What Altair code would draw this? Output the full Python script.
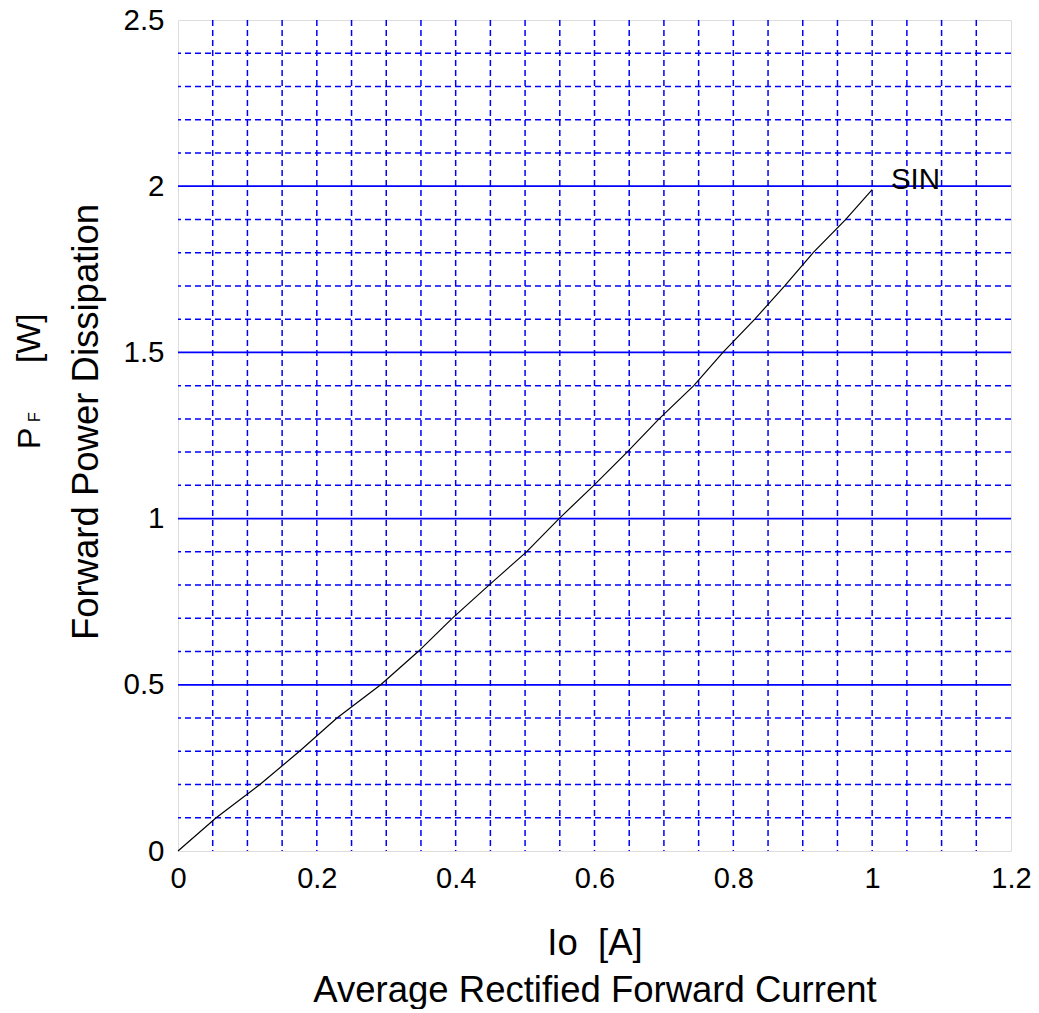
import altair as alt
import pandas as pd

# Curve: Io [A] vs PF [W] (SIN)
io = [0, 0.055, 0.118, 0.175, 0.229, 0.292, 0.346, 0.395, 0.448, 0.502, 0.549,
      0.599, 0.647, 0.693, 0.743, 0.785, 0.831, 0.874, 0.915, 0.962, 1.0]
pf = [0, 0.1, 0.2, 0.3, 0.4, 0.5, 0.6, 0.7, 0.8, 0.9, 1.0,
      1.1, 1.2, 1.3, 1.4, 1.5, 1.6, 1.7, 1.8, 1.9, 1.99]

x_ticks = [0, 0.2, 0.4, 0.6, 0.8, 1.0, 1.2]
y_ticks = [0, 0.5, 1.0, 1.5, 2.0, 2.5]
x_minor = [round(0.05 * k, 2) for k in range(1, 24)]
y_minor = [round(0.1 * k, 1) for k in range(1, 25) if k % 5 != 0]
y_major = [0.5, 1.0, 1.5, 2.0]

label_text = ["SIN"]
label_x = [1.027]
label_y = [2.02]

BLUE = "#0000ff"
FONT = "Arial, Liberation Sans, sans-serif"

xs = alt.Scale(domain=[0, 1.2], nice=False, zero=False)
ys = alt.Scale(domain=[0, 2.5], nice=False, zero=False)

curve_df = pd.DataFrame({"io": io, "pf": pf})

vgrid = alt.Chart(pd.DataFrame({"x": x_minor})).mark_rule(
    color=BLUE, strokeWidth=1.5, strokeDash=[6, 4]
).encode(x=alt.X("x:Q", scale=xs))

hgrid = alt.Chart(pd.DataFrame({"y": y_minor})).mark_rule(
    color=BLUE, strokeWidth=1.5, strokeDash=[6, 4]
).encode(y=alt.Y("y:Q", scale=ys))

hmajor = alt.Chart(pd.DataFrame({"y": y_major})).mark_rule(
    color=BLUE, strokeWidth=1.8
).encode(y=alt.Y("y:Q", scale=ys))

line = alt.Chart(curve_df).mark_line(color="black", strokeWidth=1.2).encode(
    x=alt.X(
        "io:Q", scale=xs,
        axis=alt.Axis(values=x_ticks, format="~g", title=None, grid=False,
                      ticks=False, domain=False, labelFontSize=29,
                      labelFont=FONT, labelColor="black", labelPadding=13,
                      labelFlush=False, labelOverlap=False),
    ),
    y=alt.Y(
        "pf:Q", scale=ys,
        axis=alt.Axis(values=y_ticks, format="~g", title=None, grid=False,
                      ticks=False, domain=False, labelFontSize=29.5,
                      labelFont=FONT, labelColor="black", labelPadding=14,
                      labelFlush=False, labelOverlap=False),
    ),
)

sin_label = alt.Chart(pd.DataFrame({"t": label_text, "x": label_x, "y": label_y})).mark_text(
    align="left", baseline="middle", fontSize=29.5, font=FONT, color="black"
).encode(x=alt.X("x:Q", scale=xs), y=alt.Y("y:Q", scale=ys), text="t:N")


def txt(s, x, y, size, angle=0, align="center", baseline="alphabetic"):
    return alt.Chart(alt.Data(values=[{"a": 1}])).mark_text(
        text=s, fontSize=size, font=FONT, color="black", angle=angle,
        align=align, baseline=baseline
    ).encode(x=alt.value(x), y=alt.value(y))


xt1 = txt("Io\u00a0\u00a0[A]", 417, 935, 36.5)
xt2 = txt("Average Rectified Forward Current", 417, 982, 36.5)
yt2 = txt("Forward Power Dissipation", -80, 402, 36.5, angle=270)
ytP = txt("P", -138, 429, 32, angle=270, align="left")
ytF = txt("F", -138, 402, 16, angle=270, align="left")
ytW = txt("[W]", -138, 343, 33, angle=270, align="left")

chart = alt.layer(
    vgrid, hgrid, hmajor, line, sin_label, xt1, xt2, yt2, ytP, ytF, ytW
).properties(
    width=833, height=831,
    autosize=alt.AutoSizeParams(type="none"),
    padding={"left": 170, "top": 12, "right": 20, "bottom": 158},
).configure_view(
    stroke=BLUE, strokeWidth=2
).configure(background="white")

chart.save("out.html", embed_options={"renderer": "svg", "actions": False})
